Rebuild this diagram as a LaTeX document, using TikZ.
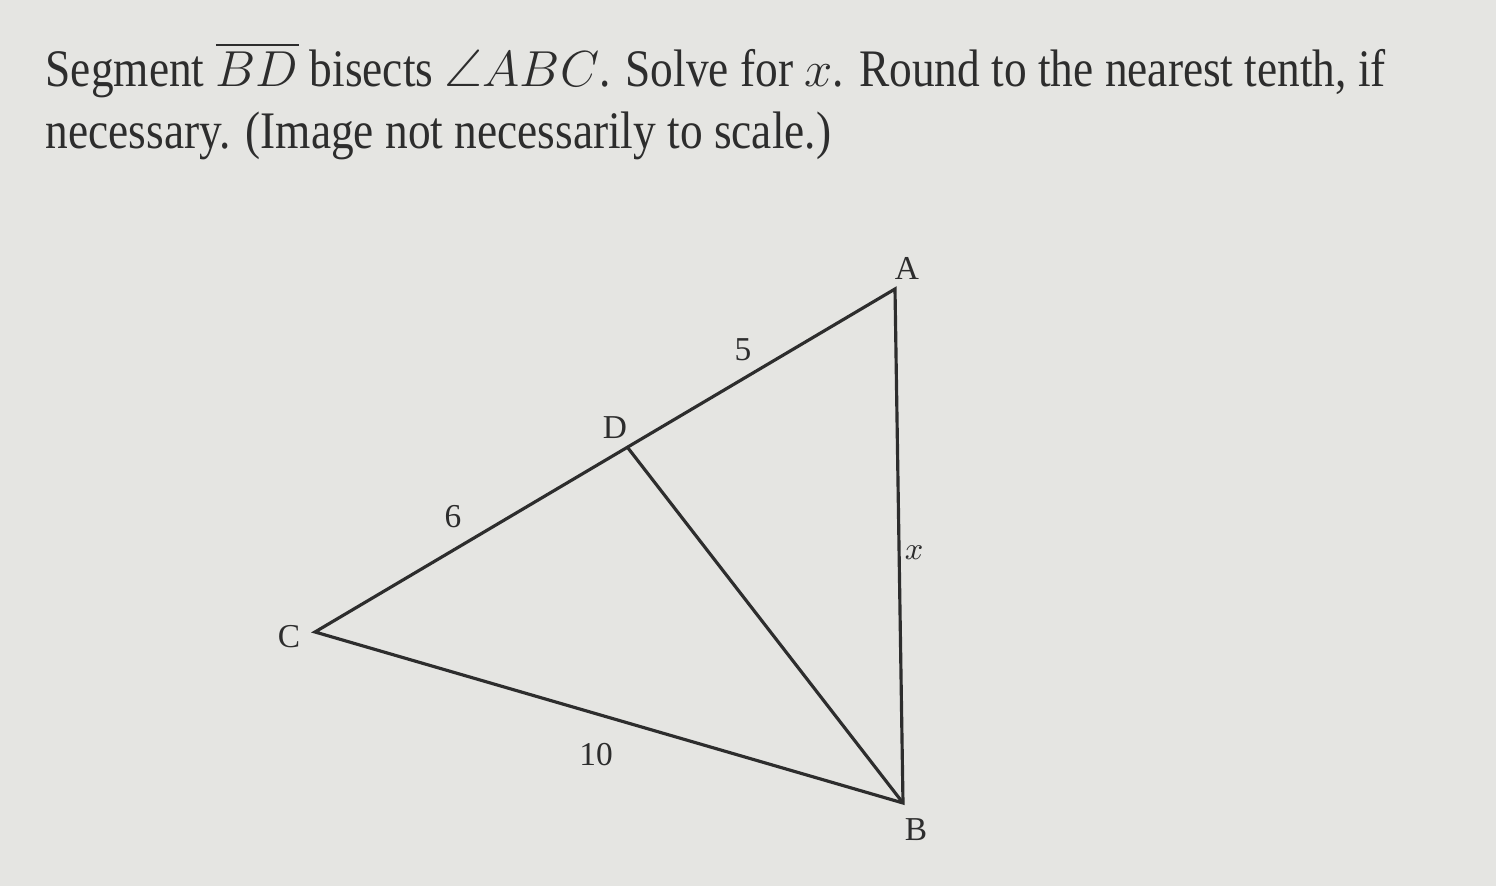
\documentclass[tikz,border=0pt]{standalone}
\usepackage{amsmath}
\usepackage{amssymb}
\usepackage{fontspec}
\setmainfont{Liberation Serif}
\newfontfamily\promptfont[FakeStretch=0.86]{Liberation Serif}
\usepackage{tikz}
\usetikzlibrary{positioning, calc}
\usepackage{xcolor}
\definecolor{screenGray}{RGB}{229,229,226}
\definecolor{inkGray}{RGB}{45,45,45}

\begin{document}
\begin{tikzpicture}[
    x=0.01cm, y=-0.01cm,
    prompt/.style={anchor=base west, inner sep=0pt, text=inkGray, font=\promptfont\fontsize{15}{18}\selectfont},
    vlabel/.style={inner sep=0pt, text=inkGray, font=\fontsize{9.5}{10}\selectfont},
    side/.style={line width=0.9pt, draw=inkGray, line join=miter}
]

% Screen background
\fill[screenGray] (0,0) rectangle (1496,886);
\useasboundingbox (0,0) rectangle (1496,886);

% Question text
\node[prompt] (title1) at (45,87) {Segment $\overline{BD}$ bisects $\angle ABC$. Solve for $x$. Round to the nearest tenth, if};
\node[prompt] (title2) at (45,149) {necessary. (Image not necessarily to scale.)};

% Vertices
\coordinate (A) at (895,289);
\coordinate (B) at (903,803);
\coordinate (C) at (315,632);
\coordinate (D) at (628,448);

% Triangle and bisector
\draw[side] (A) -- (B) -- (C) -- cycle;
\draw[side] (D) -- (B);

% Vertex labels
\node[vlabel] (labA) at (907,268) {A};
\node[vlabel] (labB) at (916,830) {B};
\node[vlabel] (labC) at (289,637) {C};
\node[vlabel] (labD) at (615,428) {D};

% Side labels
\node[vlabel] (lab5) at (743,350) {5};
\node[vlabel] (lab6) at (453,517) {6};
\node[vlabel] (lab10) at (596,755) {10};
\node[vlabel] (labx) at (914,553) {$x$};

\end{tikzpicture}
\end{document}
